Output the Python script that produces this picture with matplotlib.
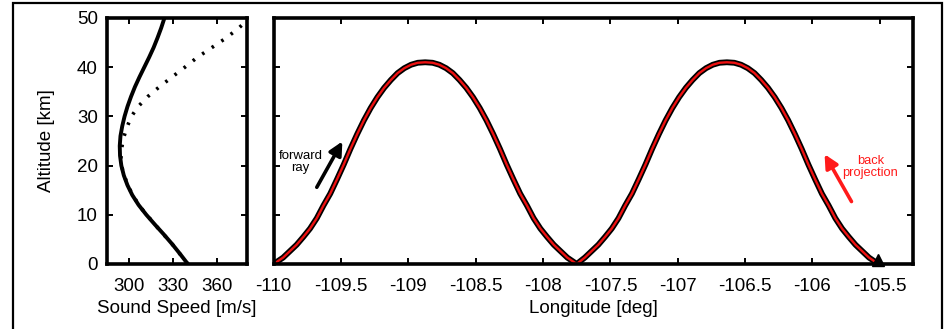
import matplotlib
matplotlib.use("Agg")
import matplotlib.pyplot as plt
from matplotlib.patches import Rectangle

plt.rcParams['font.family'] = ['Liberation Sans', 'DejaVu Sans']

# sound speed profiles (m/s) vs altitude (km)
alt_solid = [0, 2, 4, 6, 8, 10, 12, 14, 16, 18, 20, 22, 24, 26, 28, 30, 32, 34, 36, 38, 40, 42, 44, 46, 48, 50]
speed_solid = [340.0, 334.8, 329.4, 323.6, 317.5, 311.6, 306.3, 302.0, 298.7, 296.2, 294.5, 293.6, 293.4,
               293.9, 295.1, 296.7, 298.7, 301.1, 303.8, 306.9, 310.2, 313.5, 316.6, 319.3, 321.8, 324.0]

alt_dotted = [0, 4, 8, 12, 16, 20, 22, 24, 26, 28, 30, 32, 34, 36, 38, 40, 42, 44, 46, 48, 49.5]
speed_dotted = [340.0, 329.4, 317.5, 306.3, 298.7, 294.5, 294.2, 295.0, 296.4, 298.6, 301.4, 306.0,
                312.5, 320.5, 329.2, 338.0, 346.5, 356.5, 366.5, 375.0, 380.5]

# ray path: longitude (deg) and altitude (km)
ray_lon = [-110.00, -109.93, -109.88, -109.83, -109.78, -109.73, -109.68, -109.63, -109.58, -109.53,
           -109.48, -109.43, -109.38, -109.33, -109.28, -109.23, -109.18, -109.13, -109.08, -109.03,
           -108.98, -108.93, -108.875, -108.82, -108.77, -108.72, -108.67, -108.62, -108.57, -108.52,
           -108.47, -108.42, -108.37, -108.32, -108.27, -108.22, -108.17, -108.12, -108.07, -108.02,
           -107.97, -107.92, -107.87, -107.82, -107.75,
           -107.69, -107.64, -107.59, -107.54, -107.49, -107.44, -107.39, -107.34, -107.29,
           -107.24, -107.19, -107.14, -107.09, -107.04, -106.99, -106.94, -106.89, -106.84, -106.79,
           -106.74, -106.69, -106.635, -106.58, -106.53, -106.48, -106.43, -106.38, -106.33, -106.28,
           -106.23, -106.18, -106.13, -106.08, -106.03, -105.98, -105.93, -105.88, -105.83, -105.78,
           -105.73, -105.68, -105.63, -105.58, -105.51]
ray_alt = [0, 1.3, 2.6, 3.9, 5.5, 7.2, 9.3, 11.9, 14.3, 17.2,
           20.2, 23.4, 26.4, 29.2, 31.7, 33.9, 35.8, 37.4, 38.8, 39.8,
           40.5, 40.9, 41.0, 40.9, 40.5, 39.8, 38.8, 37.4, 35.8, 33.9,
           31.7, 29.2, 26.4, 23.4, 20.2, 17.2, 14.3, 11.9, 9.3, 7.2,
           5.5, 3.9, 2.6, 1.3, 0,
           1.3, 2.6, 3.9, 5.5, 7.2, 9.3, 11.9, 14.3, 17.2,
           20.2, 23.4, 26.4, 29.2, 31.7, 33.9, 35.8, 37.4, 38.8, 39.8,
           40.5, 40.9, 41.0, 40.9, 40.5, 39.8, 38.8, 37.4, 35.8, 33.9,
           31.7, 29.2, 26.4, 23.4, 20.2, 17.2, 14.3, 11.9, 9.3, 7.2,
           5.5, 3.9, 2.6, 1.3, 0]

fig = plt.figure(figsize=(9.46, 3.29), dpi=100)

# outer frame
fig.patches.append(Rectangle((0.0137, -0.2), 0.982, 1.191, transform=fig.transFigure,
                             fill=False, edgecolor='black', linewidth=1.6))

ax1 = fig.add_axes([0.1136, 0.1976, 0.1475, 0.7477])
ax2 = fig.add_axes([0.2893, 0.1976, 0.6763, 0.7477])

for ax in (ax1, ax2):
    for s in ax.spines.values():
        s.set_linewidth(2.6)
    ax.tick_params(direction='in', length=4, width=1.4, top=True, right=True, labelsize=13.5)
    ax.tick_params(axis='x', pad=10)
    ax.tick_params(axis='y', pad=7)

# left panel: sound speed
ax1.plot(speed_dotted, alt_dotted, color='black', lw=2.6, ls=(0, (0.7, 2.5)))
ax1.plot(speed_solid, alt_solid, color='black', lw=2.8, solid_joinstyle='round')
ax1.set_xlim(285, 380.5)
ax1.set_ylim(0, 50)
ax1.set_xticks([300, 330, 360])
ax1.set_yticks([0, 10, 20, 30, 40, 50])
ax1.set_xlabel('Sound Speed [m/s]', fontsize=13.5, labelpad=4)
ax1.set_ylabel('Altitude [km]', fontsize=13.5, labelpad=16)

# right panel: ray path
ax2.plot(ray_lon, ray_alt, color='black', lw=4.2, solid_capstyle='round', solid_joinstyle='round')
ax2.plot(ray_lon, ray_alt, color='#ee1111', lw=1.7, solid_joinstyle='round')
ax2.plot([ray_lon[-1]], [0.9], marker='^', color='black', ms=9, clip_on=False)
ax2.set_xlim(-110, -105.25)
ax2.set_ylim(0, 50)
ax2.set_xticks([-110, -109.5, -109, -108.5, -108, -107.5, -107, -106.5, -106, -105.5])
ax2.set_xticklabels(['-110', '-109.5', '-109', '-108.5', '-108', '-107.5', '-107', '-106.5', '-106', '-105.5'])
ax2.set_yticks([0, 10, 20, 30, 40, 50])
ax2.set_yticklabels([])
ax2.set_xlabel('Longitude [deg]', fontsize=13.5, labelpad=4)

ax2.annotate('', xy=(-109.48, 25.4), xytext=(-109.69, 15.1),
             arrowprops=dict(arrowstyle='-|>', color='black', lw=2.6, mutation_scale=20))
ax2.text(-109.80, 20.7, 'forward\nray', ha='center', va='center', fontsize=9.5, linespacing=0.95)

ax2.annotate('', xy=(-105.92, 22.8), xytext=(-105.70, 12.2),
             arrowprops=dict(arrowstyle='-|>', color='#ff1a1a', lw=2.6, mutation_scale=20))
ax2.text(-105.57, 19.7, 'back\nprojection', ha='center', va='center', fontsize=9.3,
         color='#ff1a1a', linespacing=0.95)

fig.savefig('out.png', dpi=100)
